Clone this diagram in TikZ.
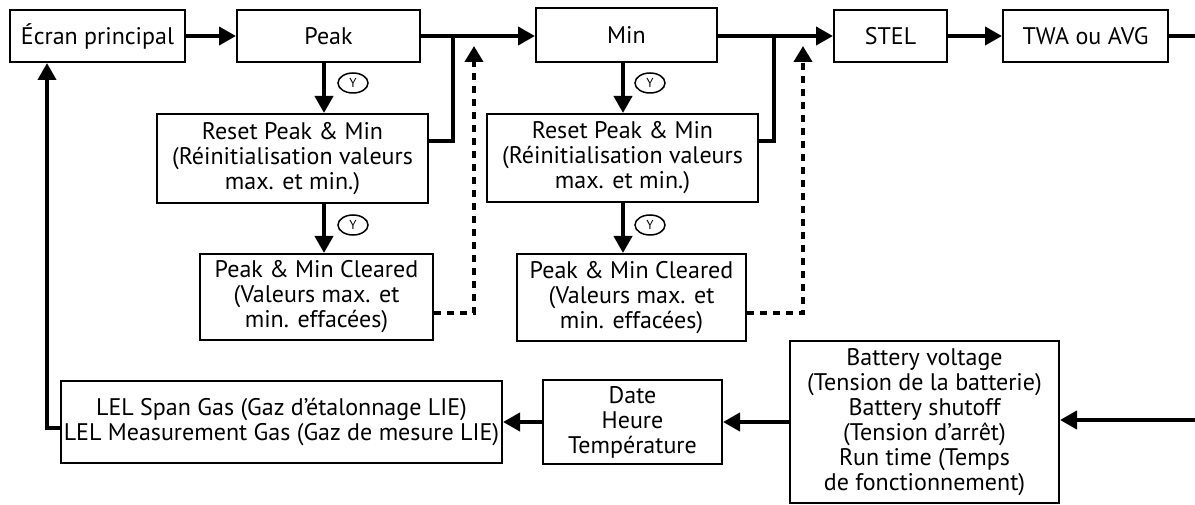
\documentclass[tikz,border=0pt]{standalone}
\usepackage{fontspec}
\setmainfont{PT Sans}
\usetikzlibrary{arrows.meta,shapes.geometric}

\begin{document}
\begin{tikzpicture}[x=1pt,y=-1pt,font=\fontsize{24}{25}\selectfont,
  box/.style={draw,line width=2pt,align=center,inner sep=0pt},
  ln/.style={line width=4pt},
  arr/.style={line width=4pt,-{Triangle[length=17pt,width=18pt]}},
  dsh/.style={line width=4pt,dash pattern=on 7pt off 6pt,-{Triangle[length=16pt,width=18pt]}},
  yes/.style={draw,ellipse,line width=1.5pt,inner sep=0pt,minimum width=30pt,minimum height=20pt,font=\fontsize{13}{13}\selectfont}]
  \useasboundingbox (0,0) rectangle (1195,505);
  % top row
  \node[box,minimum width=175pt,minimum height=52pt] (ecran) at (97.5,36) {Écran principal};
  \node[box,minimum width=183pt,minimum height=52pt] (peak) at (328.5,36) {Peak};
  \node[box,minimum width=181pt,minimum height=54pt] (min) at (626.5,35) {Min};
  \node[box,minimum width=113pt,minimum height=52pt] (stel) at (890.5,36) {STEL};
  \node[box,minimum width=165pt,minimum height=52pt] (twa) at (1085.5,36) {TWA ou AVG};
  % reset / cleared
  \node[box,minimum width=271pt,minimum height=89pt] (resetA) at (292.5,158.5)
    {Reset Peak \& Min\\(Réinitialisation valeurs\\max. et min.)};
  \node[box,minimum width=233pt,minimum height=86pt] (clearA) at (316.5,297)
    {Peak \& Min Cleared\\(Valeurs max. et\\min. effacées)};
  \node[box,minimum width=271pt,minimum height=88pt] (resetB) at (622.5,158)
    {Reset Peak \& Min\\(Réinitialisation valeurs\\max. et min.)};
  \node[box,minimum width=229pt,minimum height=87pt] (clearB) at (631.5,297.5)
    {Peak \& Min Cleared\\(Valeurs max. et\\min. effacées)};
  \node[yes] (ya1) at (353,83) {Y};
  \node[yes] (ya2) at (353,225) {Y};
  \node[yes] (yb1) at (650,83) {Y};
  \node[yes] (yb2) at (650,225) {Y};
  % bottom row
  \node[box,minimum width=441pt,minimum height=82pt] (lel) at (281.5,422)
    {LEL Span Gas (Gaz d’étalonnage LIE)\\LEL Measurement Gas (Gaz de mesure LIE)};
  \node[box,minimum width=179pt,minimum height=84pt] (date) at (632.5,422)
    {Date\\Heure\\Température};
  \node[box,minimum width=269pt,minimum height=162pt] (batt) at (924.5,422)
    {Battery voltage\\(Tension de la batterie)\\Battery shutoff\\(Tension d’arrêt)\\Run time (Temps\\de fonctionnement)};
  % helper points
  \coordinate (xa) at (324,0);
  \coordinate (xb) at (623,0);
  \coordinate (jA) at (453,36);
  \coordinate (dA) at (474,46);
  \coordinate (jB) at (774,36);
  \coordinate (dB) at (803,46);
  \coordinate (rout) at (1195,36);
  \coordinate (rin) at (1195,420);
  \coordinate (lft) at (47,0);
  % main flow
  \draw[arr] (ecran) -- (peak);
  \draw[arr] (peak.east) -- (peak.east -| min.west);
  \draw[arr] (min.east |- peak.east) -- (stel);
  \draw[arr] (stel) -- (twa);
  \draw[ln] (twa) -- (rout);
  % Y branches
  \draw[arr] (xa |- peak.south) -- (xa |- resetA.north);
  \draw[arr] (xa |- resetA.south) -- (xa |- clearA.north);
  \draw[arr] (xb |- min.south) -- (xb |- resetB.north);
  \draw[arr] (xb |- resetB.south) -- (xb |- clearB.north);
  \draw[ln] ([yshift=17pt]resetA.east) -| (jA);
  \draw[ln] ([yshift=17pt]resetB.east) -| (jB);
  \draw[dsh] ([yshift=-16pt]clearA.east) -| (dA);
  \draw[dsh] ([yshift=-16pt]clearB.east) -| (dB);
  % return path
  \draw[arr] (rin) -- (batt.east |- rin);
  \draw[arr] (batt) -- (date);
  \draw[arr] (date) -- (lel);
  \draw[arr] ([yshift=-6pt]lel.west) -| (lft |- ecran.south);
\end{tikzpicture}
\end{document}
